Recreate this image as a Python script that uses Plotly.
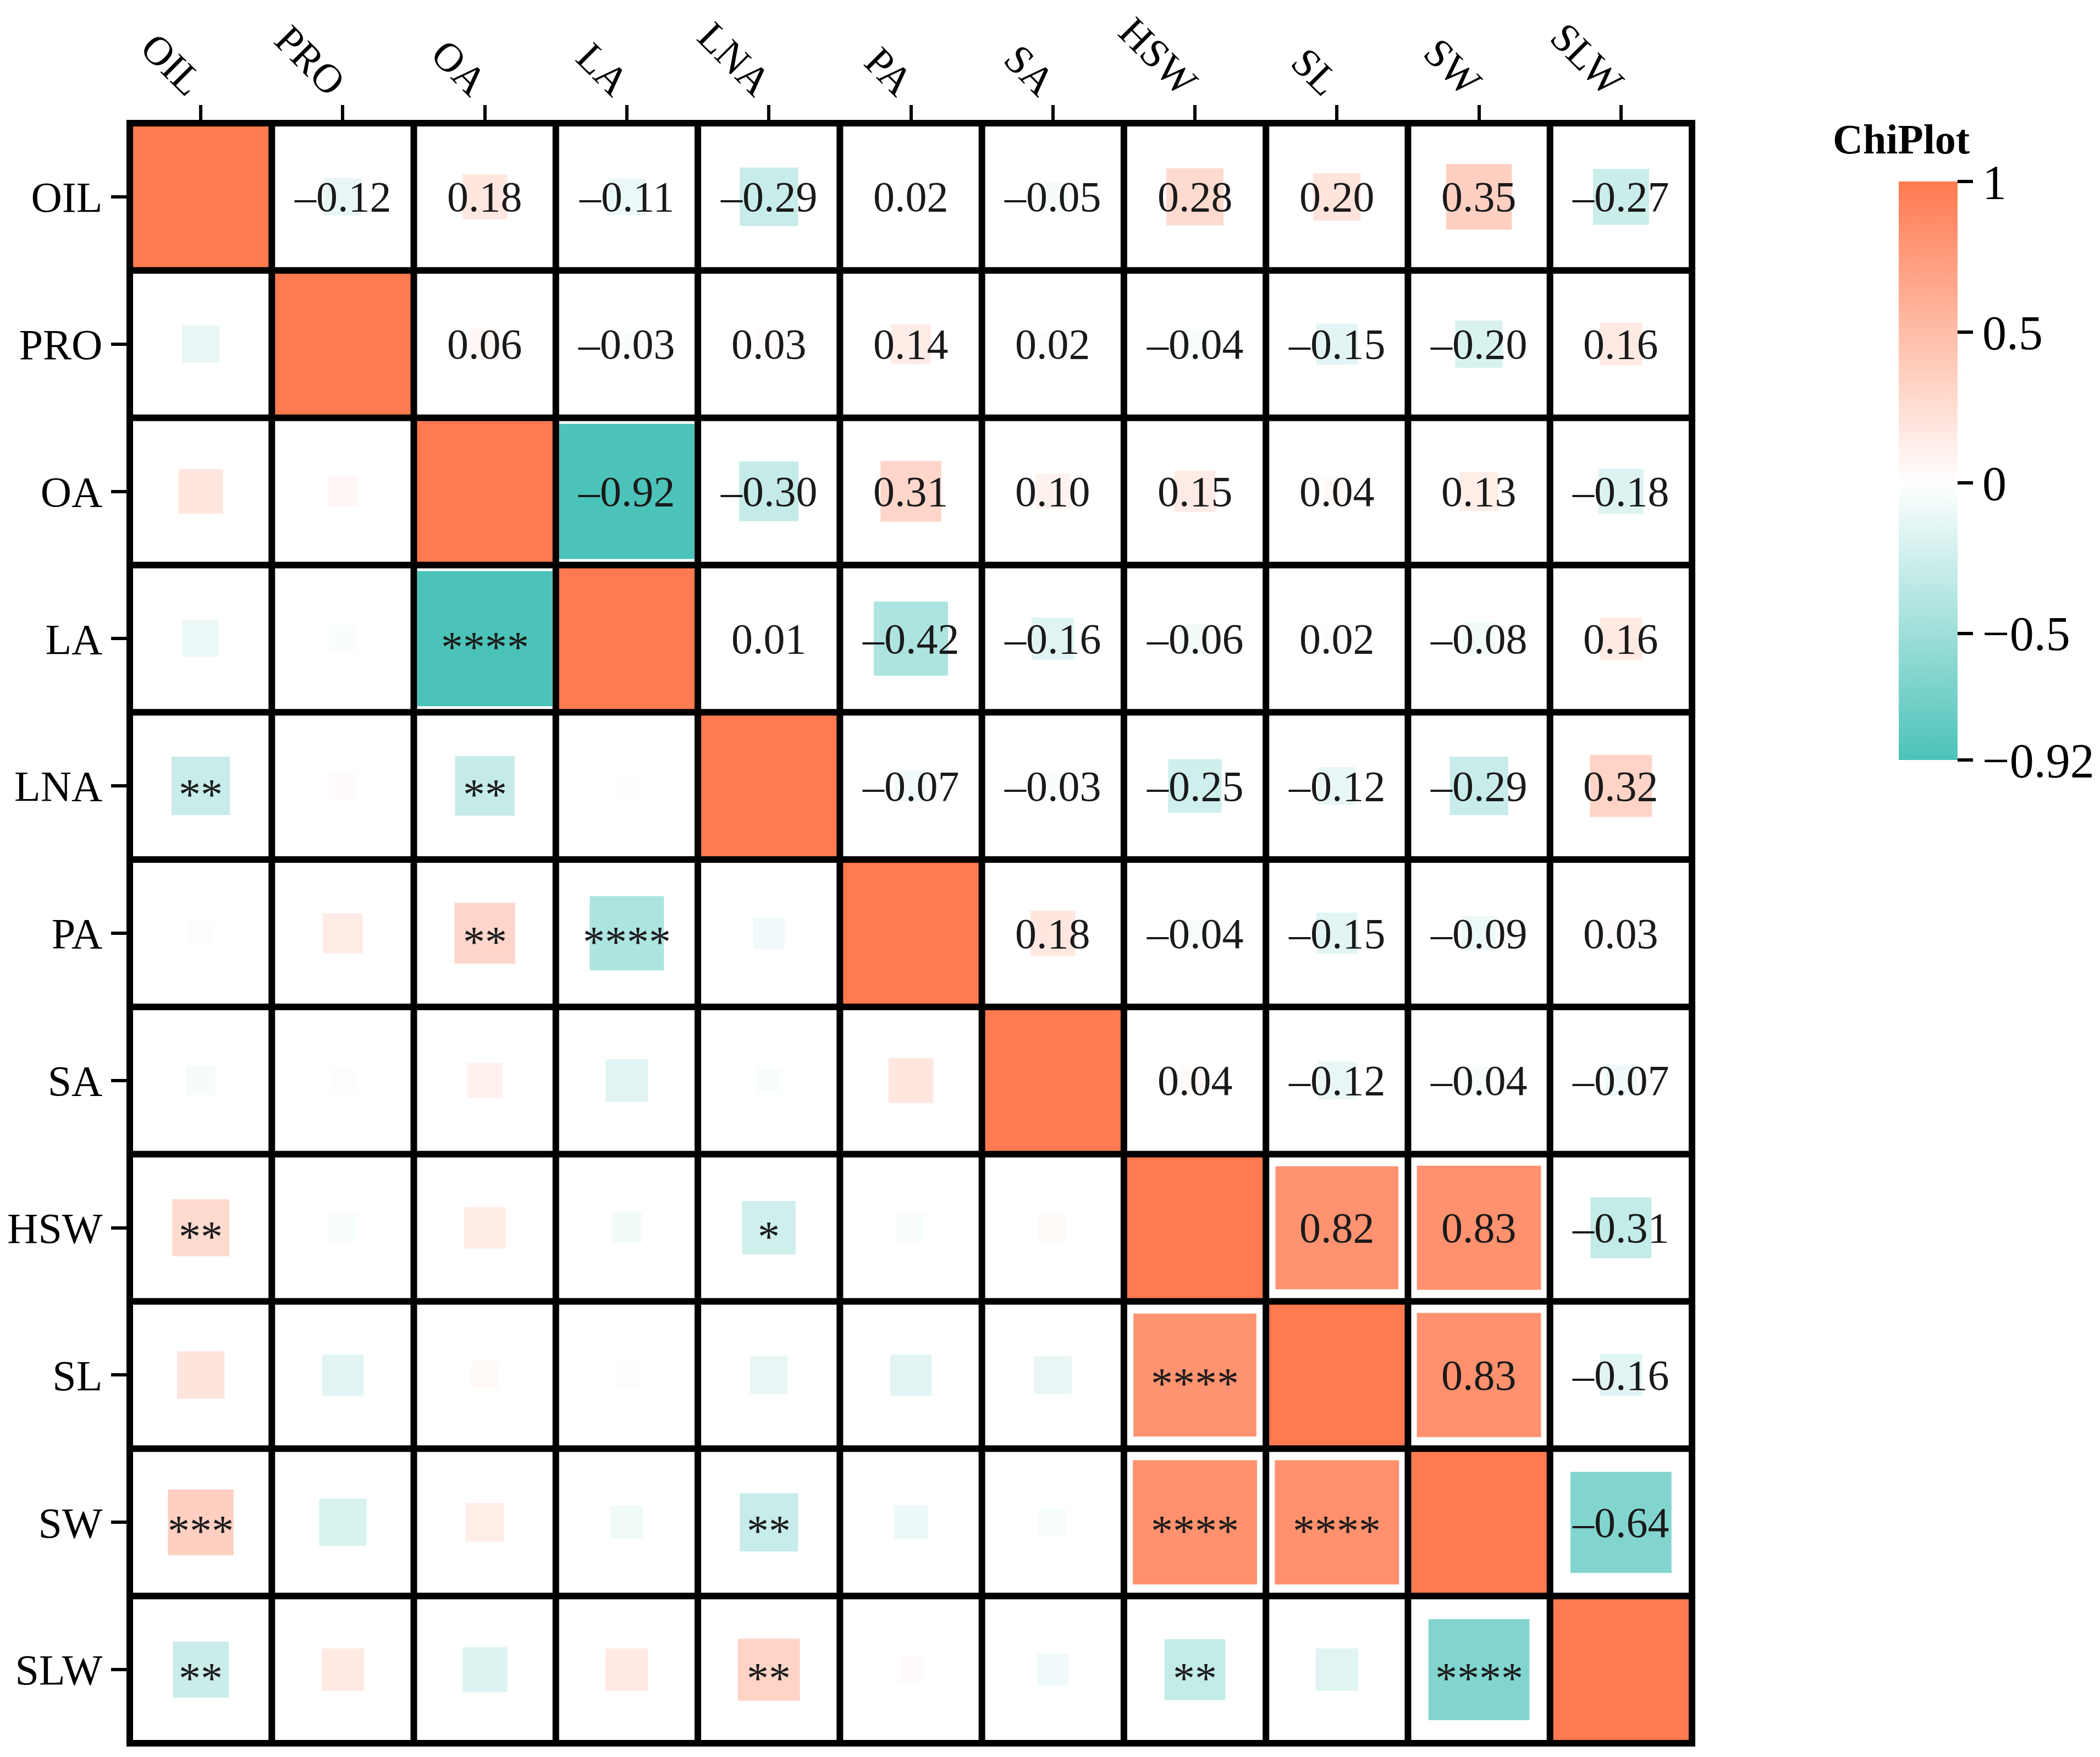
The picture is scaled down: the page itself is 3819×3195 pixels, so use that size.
import numpy as np
import plotly.graph_objects as go

variables = ["OIL", "PRO", "OA", "LA", "LNA", "PA", "SA", "HSW", "SL", "SW", "SLW"]

corr = [
    [1.00, -0.12, 0.18, -0.11, -0.29, 0.02, -0.05, 0.28, 0.20, 0.35, -0.27],
    [-0.12, 1.00, 0.06, -0.03, 0.03, 0.14, 0.02, -0.04, -0.15, -0.20, 0.16],
    [0.18, 0.06, 1.00, -0.92, -0.30, 0.31, 0.10, 0.15, 0.04, 0.13, -0.18],
    [-0.11, -0.03, -0.92, 1.00, 0.01, -0.42, -0.16, -0.06, 0.02, -0.08, 0.16],
    [-0.29, 0.03, -0.30, 0.01, 1.00, -0.07, -0.03, -0.25, -0.12, -0.29, 0.32],
    [0.02, 0.14, 0.31, -0.42, -0.07, 1.00, 0.18, -0.04, -0.15, -0.09, 0.03],
    [-0.05, 0.02, 0.10, -0.16, -0.03, 0.18, 1.00, 0.04, -0.12, -0.04, -0.07],
    [0.28, -0.04, 0.15, -0.06, -0.25, -0.04, 0.04, 1.00, 0.82, 0.83, -0.31],
    [0.20, -0.15, 0.04, 0.02, -0.12, -0.15, -0.12, 0.82, 1.00, 0.83, -0.16],
    [0.35, -0.20, 0.13, -0.08, -0.29, -0.09, -0.04, 0.83, 0.83, 1.00, -0.64],
    [-0.27, 0.16, -0.18, 0.16, 0.32, 0.03, -0.07, -0.31, -0.16, -0.64, 1.00],
]

# significance marks shown in the lower triangle (row, col, mark)
sig_marks = [
    (3, 2, "****"), (4, 0, "**"), (4, 2, "**"), (5, 2, "**"), (5, 3, "****"),
    (7, 0, "**"), (7, 4, "*"), (8, 7, "****"), (9, 0, "***"), (9, 4, "**"),
    (9, 7, "****"), (9, 8, "****"), (10, 0, "**"), (10, 4, "**"),
    (10, 7, "**"), (10, 9, "****"),
]

cbar_ticks = [1, 0.5, 0, -0.5, -0.92]
cbar_labels = ["1", "0.5", "0", "\u22120.5", "\u22120.92"]

ORANGE = "#FF7A50"
TEAL = "#4CC3B9"
FONT = "Liberation Serif"

W, H = 3819, 3195
ML, MR, MT, MB = 228, 750, 216, 33
n = len(variables)
cell_w = (W - ML - MR) / n
inner = cell_w - 12

R = np.array(corr)
cmin, cmax = -0.92, 1.0
colorscale = [[0, TEAL], [(0 - cmin) / (cmax - cmin), "#FFFFFF"], [1, ORANGE]]

fig = go.Figure()

# diagonal: full cells
diag = np.where(np.eye(n, dtype=bool), R, np.nan)
fig.add_trace(go.Heatmap(z=diag, x=list(range(n)), y=list(range(n)),
                         coloraxis="coloraxis", hoverinfo="skip"))

# off-diagonal squares sized by |r|
xs, ys, cs, ss = [], [], [], []
for i in range(n):
    for j in range(n):
        if i == j:
            continue
        r = R[i, j]
        xs.append(j)
        ys.append(i)
        cs.append(r)
        ss.append(inner * min(1.0, 0.17 + 0.9 * abs(r)))
fig.add_trace(go.Scatter(x=xs, y=ys, mode="markers",
                         marker=dict(symbol="square", size=ss, color=cs, opacity=1,
                                     coloraxis="coloraxis", line=dict(width=0)),
                         hoverinfo="skip", showlegend=False))

annotations = []
for i in range(n):
    for j in range(i + 1, n):
        txt = f"{R[i, j]:.2f}".replace("-", "\u2013")
        annotations.append(dict(x=j, y=i, text=txt, showarrow=False,
                                font=dict(family=FONT, size=78, color="#1a1a1a")))
for i, j, m in sig_marks:
    annotations.append(dict(x=j, y=i, text=m, showarrow=False, yshift=-16,
                            font=dict(family=FONT, size=80, color="#1a1a1a")))

annotations.append(dict(x=(3449 - ML) / (W - ML - MR), y=(H - MB - 245) / (H - MT - MB),
                        xref="paper", yref="paper", text="<b>ChiPlot</b>",
                        showarrow=False, xanchor="center", yanchor="middle",
                        font=dict(family=FONT, size=76, color="black")))

shapes = []
for k in range(1, n):
    shapes.append(dict(type="line", xref="x", yref="y", x0=k - 0.5, x1=k - 0.5,
                       y0=-0.5, y1=n - 0.5, line=dict(color="black", width=12),
                       layer="above"))
    shapes.append(dict(type="line", xref="x", yref="y", y0=k - 0.5, y1=k - 0.5,
                       x0=-0.5, x1=n - 0.5, line=dict(color="black", width=12),
                       layer="above"))
shapes.append(dict(type="rect", xref="paper", yref="paper", x0=0, x1=1, y0=0, y1=1,
                   line=dict(color="black", width=12), layer="above"))

fig.update_layout(
    width=W, height=H,
    margin=dict(l=ML, r=MR, t=MT, b=MB, autoexpand=False),
    plot_bgcolor="white", paper_bgcolor="white",
    coloraxis=dict(
        colorscale=colorscale, cmin=cmin, cmax=cmax,
        colorbar=dict(
            x=3445 / W, xref="container", xanchor="left", xpad=0,
            y=1 - 349 / H, yref="container", yanchor="top", ypad=0,
            len=1052, lenmode="pixels", thickness=107, outlinewidth=0,
            tickmode="array", tickvals=cbar_ticks, ticktext=cbar_labels,
            ticks="outside", ticklen=28, tickwidth=6, tickcolor="black",
            tickfont=dict(family=FONT, size=88, color="black"),
        ),
    ),
    xaxis=dict(range=[-0.5, n - 0.5], side="top", tickmode="array",
               tickvals=list(range(n)), ticktext=variables, tickangle=45,
               ticks="outside", ticklen=32, tickwidth=6, tickcolor="black",
               showgrid=False, zeroline=False, automargin=False,
               ticklabelstandoff=-28,
               tickfont=dict(family=FONT, size=74, color="black")),
    yaxis=dict(range=[n - 0.5, -0.5], tickmode="array",
               tickvals=list(range(n)), ticktext=variables,
               ticks="outside", ticklen=33, tickwidth=6, tickcolor="black",
               showgrid=False, zeroline=False, automargin=False,
               tickfont=dict(family=FONT, size=78, color="black")),
    annotations=annotations,
    shapes=shapes,
)

fig.write_html("out.html")
